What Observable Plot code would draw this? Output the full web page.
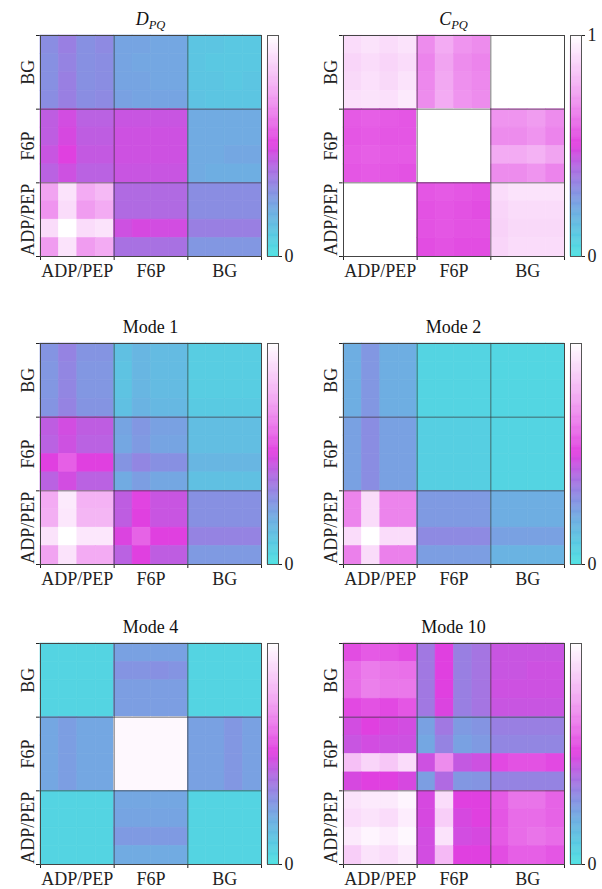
<!DOCTYPE html>
<html>
<head>
<meta charset="utf-8">
<script src="https://cdn.jsdelivr.net/npm/d3@7"></script>
<script src="https://cdn.jsdelivr.net/npm/@observablehq/plot@0.6"></script>
<style>
  body { margin: 0; background: #fff; }
  #wrap { position: relative; width: 602px; height: 889px; background: #fff; overflow: hidden; }
  #wrap svg { position: absolute; }
  .ttl { position: absolute; width: 221px; text-align: center; font-family: 'Liberation Serif', serif; font-size: 18px; line-height: 18px; color: #111; white-space: nowrap; }
  .ttl i sub { font-size: 12.5px; vertical-align: -4px; line-height: 0; }
</style>
</head>
<body>
<div id="wrap"></div>
<script>
// ---- categories (blocks of 4 cells each) ----
const categories = ["ADP/PEP", "F6P", "BG"];

// ---- colour map stops ----
const colorDomain = [0, 0.1, 0.2, 0.3, 0.4, 0.5, 0.6, 0.75, 0.9, 1];
const colorRange  = ["#4ee0e2", "#5ac8e2", "#6eaee2", "#8a8de2", "#b06ae2", "#e040e0", "#e86ce8", "#f2a8f2", "#fadcfa", "#ffffff"];

// ---- matrices: rows listed top (BG) to bottom (ADP/PEP), columns left (ADP/PEP) to right (BG) ----
const D_PQ = [
  [0.30,0.34,0.29,0.31, 0.23,0.23,0.22,0.22, 0.11,0.11,0.10,0.10],
  [0.29,0.33,0.29,0.30, 0.23,0.22,0.22,0.22, 0.11,0.10,0.10,0.10],
  [0.29,0.34,0.29,0.30, 0.23,0.23,0.22,0.22, 0.11,0.11,0.10,0.11],
  [0.30,0.34,0.30,0.31, 0.24,0.23,0.23,0.23, 0.12,0.11,0.11,0.11],
  [0.43,0.47,0.42,0.42, 0.45,0.45,0.45,0.45, 0.21,0.21,0.21,0.21],
  [0.43,0.48,0.43,0.43, 0.46,0.46,0.46,0.46, 0.21,0.21,0.21,0.21],
  [0.45,0.50,0.44,0.44, 0.46,0.46,0.46,0.46, 0.21,0.21,0.22,0.22],
  [0.42,0.46,0.42,0.42, 0.45,0.45,0.45,0.45, 0.21,0.20,0.20,0.20],
  [0.74,0.92,0.76,0.80, 0.40,0.40,0.40,0.40, 0.30,0.30,0.30,0.30],
  [0.70,0.90,0.72,0.76, 0.40,0.40,0.40,0.40, 0.30,0.30,0.30,0.30],
  [0.90,1.00,0.90,0.92, 0.46,0.48,0.47,0.47, 0.34,0.34,0.34,0.34],
  [0.72,0.92,0.72,0.76, 0.38,0.38,0.38,0.38, 0.27,0.27,0.27,0.27]
];
const C_PQ = [
  [0.90,0.92,0.90,0.92, 0.68,0.76,0.70,0.68, 1,1,1,1],
  [0.88,0.90,0.88,0.90, 0.66,0.74,0.68,0.66, 1,1,1,1],
  [0.89,0.91,0.89,0.92, 0.67,0.75,0.69,0.67, 1,1,1,1],
  [0.91,0.92,0.91,0.94, 0.68,0.76,0.70,0.68, 1,1,1,1],
  [0.56,0.57,0.56,0.55, 1,1,1,1, 0.70,0.70,0.72,0.68],
  [0.55,0.56,0.55,0.55, 1,1,1,1, 0.68,0.68,0.70,0.66],
  [0.56,0.57,0.56,0.56, 1,1,1,1, 0.76,0.76,0.78,0.74],
  [0.55,0.56,0.55,0.54, 1,1,1,1, 0.68,0.68,0.70,0.66],
  [1,1,1,1, 0.55,0.56,0.55,0.54, 0.90,0.92,0.92,0.92],
  [1,1,1,1, 0.54,0.55,0.54,0.53, 0.88,0.90,0.90,0.90],
  [1,1,1,1, 0.54,0.55,0.54,0.54, 0.87,0.89,0.89,0.89],
  [1,1,1,1, 0.53,0.54,0.53,0.53, 0.88,0.90,0.90,0.90]
];
const mode1 = [
  [0.28,0.33,0.28,0.28, 0.13,0.17,0.15,0.15, 0.08,0.08,0.08,0.08],
  [0.27,0.32,0.27,0.27, 0.12,0.17,0.15,0.15, 0.08,0.08,0.08,0.08],
  [0.27,0.32,0.27,0.27, 0.12,0.17,0.15,0.15, 0.08,0.08,0.08,0.08],
  [0.28,0.33,0.28,0.28, 0.13,0.18,0.16,0.16, 0.09,0.09,0.09,0.09],
  [0.43,0.47,0.43,0.43, 0.23,0.27,0.24,0.24, 0.14,0.14,0.14,0.14],
  [0.42,0.46,0.42,0.42, 0.22,0.26,0.23,0.23, 0.14,0.14,0.14,0.14],
  [0.50,0.57,0.50,0.50, 0.28,0.32,0.29,0.29, 0.17,0.17,0.17,0.17],
  [0.42,0.47,0.42,0.42, 0.21,0.25,0.22,0.22, 0.13,0.13,0.13,0.13],
  [0.76,0.94,0.78,0.78, 0.43,0.51,0.45,0.45, 0.29,0.29,0.29,0.29],
  [0.77,0.93,0.79,0.79, 0.43,0.50,0.45,0.45, 0.29,0.29,0.29,0.29],
  [0.92,1.00,0.93,0.93, 0.49,0.58,0.50,0.50, 0.33,0.33,0.33,0.33],
  [0.74,0.92,0.76,0.76, 0.42,0.50,0.43,0.43, 0.26,0.26,0.26,0.26]
];
const mode2 = [
  [0.20,0.27,0.20,0.20, 0.05,0.05,0.05,0.05, 0.04,0.04,0.04,0.04],
  [0.20,0.27,0.20,0.20, 0.05,0.05,0.05,0.05, 0.04,0.04,0.04,0.04],
  [0.20,0.27,0.20,0.20, 0.05,0.05,0.05,0.05, 0.04,0.04,0.04,0.04],
  [0.20,0.27,0.20,0.20, 0.05,0.05,0.05,0.05, 0.04,0.04,0.04,0.04],
  [0.24,0.30,0.24,0.24, 0.07,0.07,0.07,0.07, 0.05,0.05,0.05,0.05],
  [0.24,0.30,0.24,0.24, 0.07,0.07,0.07,0.07, 0.05,0.05,0.05,0.05],
  [0.24,0.30,0.24,0.24, 0.07,0.07,0.07,0.07, 0.05,0.05,0.05,0.05],
  [0.24,0.30,0.24,0.24, 0.07,0.07,0.07,0.07, 0.05,0.05,0.05,0.05],
  [0.66,0.90,0.66,0.66, 0.26,0.26,0.26,0.26, 0.20,0.20,0.20,0.20],
  [0.66,0.90,0.66,0.66, 0.26,0.26,0.26,0.26, 0.20,0.20,0.20,0.20],
  [0.90,1.00,0.90,0.90, 0.31,0.31,0.31,0.31, 0.24,0.24,0.24,0.24],
  [0.65,0.90,0.65,0.65, 0.25,0.25,0.25,0.25, 0.18,0.18,0.18,0.18]
];
const mode4 = [
  [0.05,0.05,0.05,0.05, 0.24,0.24,0.24,0.24, 0.05,0.05,0.05,0.05],
  [0.05,0.05,0.05,0.05, 0.28,0.28,0.29,0.28, 0.05,0.05,0.05,0.05],
  [0.05,0.05,0.05,0.05, 0.25,0.25,0.25,0.25, 0.05,0.05,0.05,0.05],
  [0.05,0.05,0.05,0.05, 0.25,0.25,0.25,0.25, 0.05,0.05,0.05,0.05],
  [0.22,0.25,0.22,0.22, 0.98,0.98,0.98,0.98, 0.24,0.24,0.27,0.24],
  [0.22,0.25,0.22,0.22, 0.98,0.98,0.98,0.98, 0.24,0.24,0.27,0.24],
  [0.22,0.25,0.22,0.22, 0.98,0.98,0.98,0.98, 0.24,0.24,0.27,0.24],
  [0.22,0.25,0.22,0.22, 0.98,0.98,0.98,0.98, 0.24,0.24,0.27,0.24],
  [0.05,0.05,0.05,0.05, 0.22,0.22,0.22,0.22, 0.05,0.05,0.05,0.05],
  [0.05,0.05,0.05,0.05, 0.23,0.23,0.23,0.23, 0.05,0.05,0.05,0.05],
  [0.05,0.05,0.05,0.05, 0.26,0.26,0.26,0.26, 0.05,0.05,0.05,0.05],
  [0.05,0.05,0.05,0.05, 0.21,0.21,0.21,0.21, 0.05,0.05,0.05,0.05]
];
const mode10 = [
  [0.53,0.56,0.55,0.53, 0.36,0.50,0.34,0.37, 0.45,0.45,0.45,0.45],
  [0.60,0.64,0.62,0.61, 0.36,0.50,0.34,0.37, 0.45,0.45,0.46,0.46],
  [0.60,0.65,0.63,0.63, 0.36,0.50,0.34,0.37, 0.46,0.46,0.46,0.46],
  [0.52,0.54,0.52,0.55, 0.36,0.49,0.34,0.37, 0.45,0.45,0.45,0.45],
  [0.47,0.50,0.48,0.47, 0.24,0.36,0.26,0.28, 0.34,0.34,0.34,0.34],
  [0.45,0.47,0.46,0.46, 0.22,0.33,0.24,0.26, 0.32,0.32,0.32,0.32],
  [0.82,0.88,0.84,0.90, 0.46,0.68,0.44,0.46, 0.52,0.54,0.54,0.52],
  [0.48,0.50,0.50,0.48, 0.25,0.40,0.27,0.28, 0.33,0.33,0.33,0.33],
  [0.92,0.94,0.94,0.97, 0.48,0.90,0.50,0.50, 0.56,0.62,0.62,0.58],
  [0.90,0.92,0.90,0.95, 0.48,0.86,0.48,0.50, 0.55,0.60,0.60,0.58],
  [0.94,0.97,0.95,0.98, 0.47,0.92,0.47,0.48, 0.56,0.60,0.62,0.60],
  [0.86,0.92,0.90,0.94, 0.47,0.80,0.50,0.50, 0.53,0.57,0.57,0.55]
];

// ---- panel definitions ----
const panels = [
  {title: "<i>D<sub>PQ</sub></i>", data: D_PQ,  ticks: [0],    px: 40,  py: 35},
  {title: "<i>C<sub>PQ</sub></i>", data: C_PQ,  ticks: [0, 1], px: 343, py: 35},
  {title: "Mode 1",                data: mode1, ticks: [0],    px: 40,  py: 343},
  {title: "Mode 2",                data: mode2, ticks: [0],    px: 343, py: 343},
  {title: "Mode 4",                data: mode4, ticks: [0],    px: 40,  py: 643},
  {title: "Mode 10",               data: mode10,ticks: [0],    px: 343, py: 643}
];

const SIZE = 221;
const font = "'Liberation Serif', 'Times New Roman', serif";
const colorScale = {type: "linear", domain: colorDomain, range: colorRange};
const wrap = document.getElementById("wrap");

function heatmap(matrix) {
  const cells = [];
  matrix.forEach((row, r) => row.forEach((v, c) => cells.push({c, r: 11 - r, v})));
  return Plot.plot({
    width: 40 + SIZE + 5, height: 5 + SIZE + 35,
    marginLeft: 40, marginRight: 5, marginTop: 5, marginBottom: 35,
    style: {background: "transparent", fontFamily: font, fontSize: "18px", color: "#222", overflow: "visible"},
    x: {domain: [0, 12], ticks: [0, 4, 8, 12], tickFormat: () => "", tickSize: 4, label: null},
    y: {domain: [0, 12], ticks: [0, 4, 8, 12], tickFormat: () => "", tickSize: 4, label: null},
    color: colorScale,
    marks: [
      Plot.rect(cells, {x1: "c", x2: d => d.c + 1, y1: "r", y2: d => d.r + 1, fill: "v", stroke: "v", strokeWidth: 0.6}),
      Plot.ruleX([4, 8], {stroke: "#333", strokeOpacity: 0.75, strokeWidth: 0.9}),
      Plot.ruleY([4, 8], {stroke: "#333", strokeOpacity: 0.75, strokeWidth: 0.9}),
      Plot.frame({stroke: "#444", strokeWidth: 1}),
      Plot.text(categories, {x: (d, i) => 2 + 4 * i, y: () => 0, dy: 15, text: d => d, fontSize: 18, fill: "#222"}),
      Plot.text(categories, {x: () => 0, y: (d, i) => 2 + 4 * i, dx: -12, rotate: -90, text: d => d, fontSize: 18, fill: "#222"})
    ]
  });
}

function colorbar(ticks) {
  const steps = d3.range(0, 200).map(i => i / 200);
  return Plot.plot({
    width: 1 + 11 + 20, height: 5 + SIZE + 35,
    marginLeft: 1, marginRight: 20, marginTop: 5, marginBottom: 35,
    style: {background: "transparent", fontFamily: font, fontSize: "18px", color: "#222", overflow: "visible"},
    x: {domain: [0, 1], axis: null},
    y: {domain: [0, 1], ticks: ticks, tickFormat: d3.format("d"), tickSize: 3, tickPadding: 3, axis: "right", label: null},
    color: colorScale,
    marks: [
      Plot.rect(steps, {x1: () => 0, x2: () => 1, y1: d => d, y2: d => d + 0.005, fill: d => d, stroke: d => d, strokeWidth: 0.5}),
      Plot.frame({stroke: "#555", strokeWidth: 1})
    ]
  });
}

for (const p of panels) {
  const h = heatmap(p.data);
  h.style.left = (p.px - 40) + "px";
  h.style.top = (p.py - 5) + "px";
  wrap.appendChild(h);

  const cb = colorbar(p.ticks);
  cb.style.left = (p.px + SIZE + 6 - 1) + "px";
  cb.style.top = (p.py - 5) + "px";
  wrap.appendChild(cb);

  const t = document.createElement("div");
  t.className = "ttl";
  t.innerHTML = p.title;
  t.style.left = p.px + "px";
  t.style.top = (p.py - 25) + "px";
  wrap.appendChild(t);
}
</script>
</body>
</html>
